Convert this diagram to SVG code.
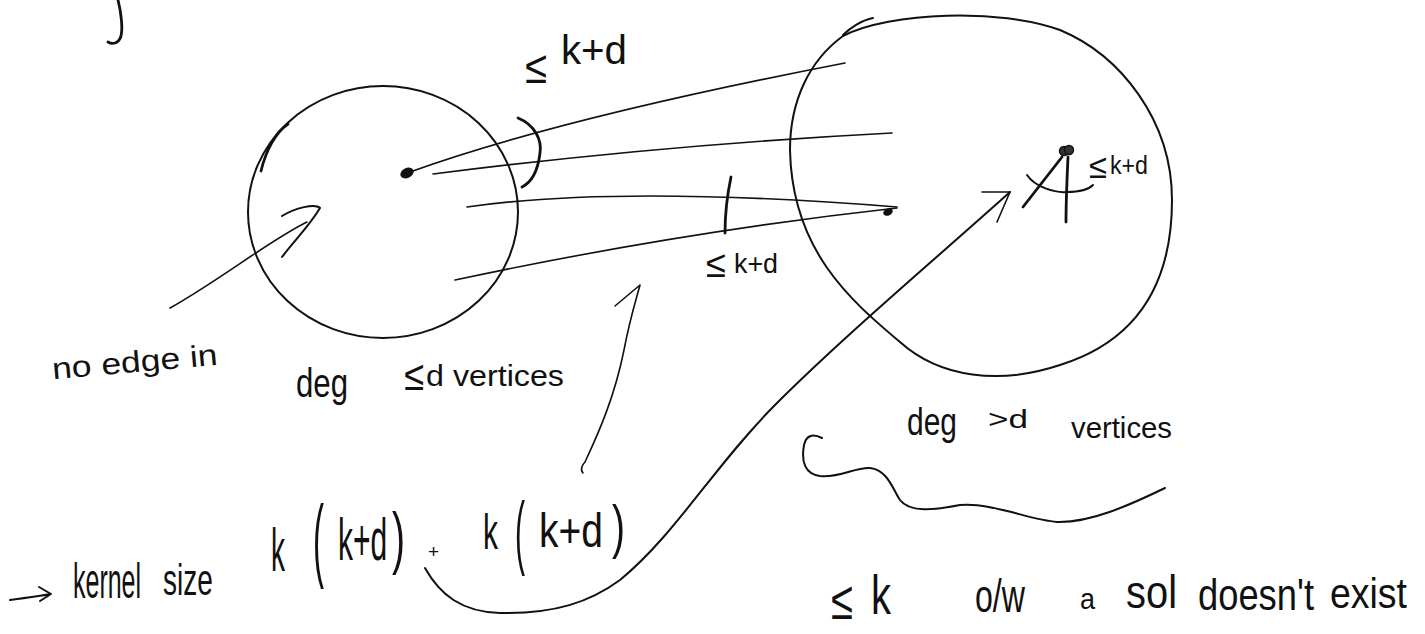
<svg xmlns="http://www.w3.org/2000/svg" width="1425" height="634" viewBox="0 0 1425 634">
<style>
.s{fill:none;stroke:#111;stroke-linecap:round;stroke-linejoin:round}
.thin{stroke-width:1.6}
.mid{stroke-width:2}
.thick{stroke-width:2.8}
.t{font-family:"Liberation Sans",Arial,sans-serif;fill:#111}
</style>
<rect width="1425" height="634" fill="#fff"/>
<g id="top-mark"><path class="s thick" d="M118,0 C121,12 123,28 121,36 C119,43 113,45 108,42"/></g>
<g id="left-set">
<ellipse class="s mid" cx="383" cy="212" rx="135" ry="126"/>
<path class="s thick" d="M261,171 C266,150 276,132 288,124"/>
<ellipse cx="407" cy="173" rx="7" ry="5" transform="rotate(-25 407 173)" fill="#111"/>
</g>
<g id="right-set">
<path class="s mid" d="M843,36 C890,12 1000,8 1060,30 C1120,55 1172,120 1172,200 C1172,280 1140,340 1060,365 C1000,385 940,378 900,342 C850,300 792,250 790,150 C790,100 810,60 843,36"/>
<path class="s mid" d="M873,18 C862,20 850,28 843,35"/>
<ellipse cx="888" cy="212" rx="5" ry="3.5" transform="rotate(-25 888 212)" fill="#111"/>
<g id="vertex-A">
<circle cx="1064" cy="151" r="4.5" fill="#333" stroke="#111" stroke-width="1.5"/>
<circle cx="1069" cy="150" r="4.5" fill="#333" stroke="#111" stroke-width="1.5"/>
<path class="s thick" d="M1062,157 L1023,207"/>
<path class="s thick" d="M1068,157 C1067,180 1066,200 1066,222"/>
<path class="s mid" d="M1027,175 C1035,187 1055,193 1067,192 C1078,192 1088,190 1093,185"/>
</g>
</g>
<g id="connectors">
<path class="s thin" d="M410,172 Q560,118 845,63"/>
<path class="s thin" d="M433,174 Q660,145 892,133"/>
<path class="s thin" d="M467,207 Q620,185 897,207"/>
<path class="s thin" d="M455,280 Q680,232 897,208"/>
<path class="s thick" d="M518,118 C535,125 542,140 540,153 C538,170 532,182 522,187"/>
<path class="s thick" d="M731,177 C727,196 725,215 725,233"/>
<path class="s thin" d="M170,308 C220,280 270,240 307,222"/>
<path class="s mid" d="M282,216 C295,208 315,203 320,208 C310,225 295,240 282,257"/>
<path class="s thin" d="M583,473 C580,470 582,465 585,462 C600,430 615,395 624,350 C630,318 636,300 640,285 L615,306"/>
<path class="s mid" d="M425,568 C440,595 462,612 500,613 C555,614 590,602 620,580 C675,535 715,465 775,405 C845,335 940,255 1010,192"/>
<path class="s thin" d="M982,192 L1010,192 L997,222"/>
<path class="s mid" d="M822,438 C812,433 806,436 804,445 C801,462 805,474 820,476 C840,478 855,467 870,468 C888,470 893,490 900,500 C910,513 935,510 960,505 C990,502 1030,520 1057,522 C1090,523 1130,505 1165,488"/>
<path class="s mid" d="M10,600 C25,598 40,596 51,594 M39,587 L51,594 L40,601"/>
</g>
<g id="labels">
<text class="t"><tspan x="525" y="83" font-size="46" textLength="22" lengthAdjust="spacingAndGlyphs">≤</tspan><tspan x="561" y="64" font-size="40" textLength="66" lengthAdjust="spacingAndGlyphs">k+d</tspan></text>
<text class="t"><tspan x="706" y="277" font-size="38" textLength="20" lengthAdjust="spacingAndGlyphs">≤</tspan><tspan x="734" y="273" font-size="28" textLength="44" lengthAdjust="spacingAndGlyphs">k+d</tspan></text>
<text class="t"><tspan x="1089" y="178" font-size="34" textLength="18" lengthAdjust="spacingAndGlyphs">≤</tspan><tspan x="1110" y="174" font-size="26" textLength="38" lengthAdjust="spacingAndGlyphs">k+d</tspan></text>
<text class="t" x="52" y="372" font-size="30" textLength="166" lengthAdjust="spacingAndGlyphs" transform="rotate(-5 135 365)">no edge in</text>
<text class="t" x="296" y="397" font-size="40" textLength="52" lengthAdjust="spacingAndGlyphs">deg</text>
<text class="t"><tspan x="404" y="390" font-size="42" textLength="20" lengthAdjust="spacingAndGlyphs">≤</tspan><tspan x="426" y="386" font-size="30" textLength="138" lengthAdjust="spacingAndGlyphs">d vertices</tspan></text>
<text class="t"><tspan x="907" y="435" font-size="38" textLength="50" lengthAdjust="spacingAndGlyphs">deg</tspan><tspan x="988" y="428" font-size="26" textLength="40" lengthAdjust="spacingAndGlyphs">&gt;d</tspan><tspan x="1071" y="438" font-size="30" textLength="101" lengthAdjust="spacingAndGlyphs">vertices</tspan></text>
<g id="kernel-formula">
<text class="t" font-size="25" transform="translate(73,598) scale(1,2)">kernel</text>
<text class="t" font-size="28" transform="translate(163,595) scale(1,1.6)">size</text>
<text class="t" font-size="28" transform="translate(271,571) scale(1,2.2)">k</text>
<text class="t" font-size="33" transform="translate(313,570) scale(1,2.8)">(</text>
<text class="t" font-size="30" transform="translate(338,560) scale(1,1.95)">k+d</text>
<text class="t" font-size="39" transform="translate(392,561) scale(1,1.77)">)</text>
<text class="t" font-size="19" x="428" y="558">+</text>
<text class="t" font-size="30" transform="translate(483,549) scale(1,1.67)">k</text>
<text class="t" font-size="30" transform="translate(515,559) scale(1,2.7)">(</text>
<text class="t" font-size="39" transform="translate(539,547) scale(1,1.22)">k+d</text>
<text class="t" font-size="39" transform="translate(612,547) scale(1,1.53)">)</text>
</g>
<text class="t"><tspan x="831" y="619" font-size="54" textLength="22" lengthAdjust="spacingAndGlyphs">≤</tspan><tspan x="871" y="614" font-size="56" textLength="20" lengthAdjust="spacingAndGlyphs">k</tspan></text>
<text class="t"><tspan x="975" y="612" font-size="46" textLength="50" lengthAdjust="spacingAndGlyphs">o/w</tspan><tspan x="1080" y="609" font-size="30" textLength="15" lengthAdjust="spacingAndGlyphs">a</tspan><tspan x="1126" y="608" font-size="46" textLength="51" lengthAdjust="spacingAndGlyphs">sol</tspan><tspan x="1198" y="610" font-size="44" textLength="116" lengthAdjust="spacingAndGlyphs">doesn't</tspan><tspan x="1330" y="608" font-size="42" textLength="77" lengthAdjust="spacingAndGlyphs">exist</tspan></text>
</g>
</svg>
